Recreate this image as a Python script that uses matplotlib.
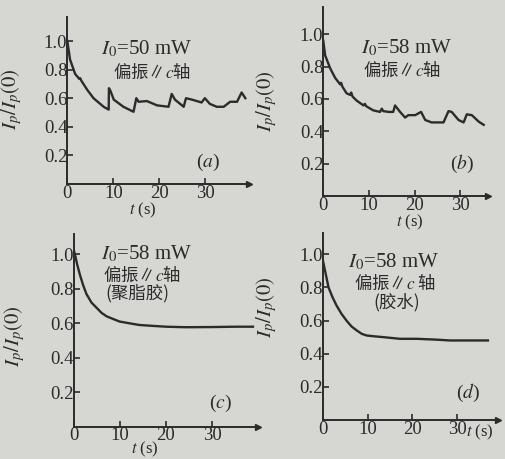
import matplotlib
matplotlib.use("Agg")
import matplotlib.pyplot as plt

W, H = 506, 459

plt.rcParams['mathtext.fontset'] = 'stix'
plt.rcParams['font.family'] = ['Liberation Serif', 'Noto Sans CJK SC', 'DejaVu Sans']

ink = '#2b2b2b'
paper = '#d6d6d3'

# (a) I0 = 50 mW, polarisation // c
a_t = [0, 0.6, 1.7, 2.6, 2.8, 3.1, 4.3, 5.7, 7.9, 9.0, 9.05, 9.4, 10.1, 12.2, 14.4,
       15.0, 15.5, 17.3, 19.5, 22.0, 22.7, 23.4, 25.3, 25.8, 27.1, 29.2, 29.9,
       31.0, 32.5, 34.0, 35.4, 36.9, 37.9, 38.7]
a_y = [1.0, 0.87, 0.77, 0.735, 0.74, 0.72, 0.66, 0.60, 0.54, 0.52, 0.67, 0.65, 0.59,
       0.54, 0.505, 0.60, 0.575, 0.58, 0.55, 0.54, 0.63, 0.59, 0.54, 0.60, 0.59,
       0.57, 0.60, 0.56, 0.54, 0.54, 0.575, 0.575, 0.64, 0.60]

# (b) I0 = 58 mW
b_t = [0, 0.4, 1.5, 2.6, 3.7, 3.9, 4.2, 5.1, 5.9, 6.1, 6.4, 7.3, 8.8, 9.1, 9.4,
       10.9, 12.4, 12.8, 13.1, 14.3, 15.3, 15.7, 16.8, 17.9, 18.6, 20.1, 21.4,
       22.3, 23.7, 26.3, 27.4, 28.1, 29.6, 30.7, 31.4, 32.5, 34.0, 35.1]
b_y = [0.96, 0.87, 0.79, 0.73, 0.69, 0.70, 0.675, 0.635, 0.625, 0.64, 0.615, 0.59,
       0.56, 0.57, 0.555, 0.53, 0.52, 0.54, 0.525, 0.52, 0.52, 0.56, 0.52, 0.485,
       0.50, 0.50, 0.52, 0.47, 0.455, 0.455, 0.525, 0.52, 0.47, 0.455, 0.505,
       0.50, 0.46, 0.44]

# (c) polyester glue
c_t = [0, 0.2, 0.7, 1.3, 2.0, 2.7, 3.8, 4.9, 6.0, 7.1, 8.5, 9.9, 12, 14.2, 17,
       20, 24.3, 30, 35, 38.9]
c_y = [1.02, 1.0, 0.94, 0.88, 0.82, 0.77, 0.72, 0.69, 0.66, 0.64, 0.625, 0.61,
       0.60, 0.59, 0.585, 0.58, 0.577, 0.578, 0.58, 0.58]

# (d) glue
d_t = [0, 0.3, 1.3, 2.2, 3.1, 4.2, 5.3, 6.4, 7.6, 8.7, 9.8, 11.5, 13.5, 17.2,
       20.9, 25.3, 28.3, 32, 36.8]
d_y = [0.97, 0.93, 0.80, 0.74, 0.69, 0.64, 0.60, 0.565, 0.54, 0.52, 0.51, 0.505,
       0.50, 0.49, 0.49, 0.485, 0.48, 0.48, 0.48]

y_ticks = [0.2, 0.4, 0.6, 0.8, 1.0]
x_ticks = [0, 10, 20, 30]

fig = plt.figure(figsize=(W / 100, H / 100), dpi=100, facecolor=paper)


def px(x, y):
    return x / W, 1 - y / H


def panel(left, bottom, sx, sy, xmax, ymax, t, y, lab_x, lab_y):
    # left/bottom = pixel position of the origin, sx/sy = pixels per unit
    right = left + xmax * sx
    top = bottom - ymax * sy
    ax = fig.add_axes([left / W, 1 - bottom / H, (right - left) / W, (bottom - top) / H])
    ax.set_facecolor('none')
    ax.plot(t, y, color=ink, lw=1.7, solid_joinstyle='round')
    ax.set_xlim(0, xmax)
    ax.set_ylim(0, ymax)
    for s in ['top', 'right']:
        ax.spines[s].set_visible(False)
    for s in ['left', 'bottom']:
        ax.spines[s].set_color(ink)
        ax.spines[s].set_linewidth(1.4)
    ax.plot(1, 0, '>', color=ink, ms=4, transform=ax.transAxes, clip_on=False)
    ax.set_xticks(x_ticks)
    ax.set_xticklabels([str(v) for v in x_ticks])
    ax.set_yticks(y_ticks)
    ax.set_yticklabels(['%.1f' % v for v in y_ticks])
    ax.tick_params(direction='in', length=4, width=1.2, color=ink, labelcolor=ink,
                   labelsize=13.5)
    ax.tick_params(axis='y', pad=0)
    ax.tick_params(axis='x', pad=0.5)
    ax.set_ylabel('$I_p/I_p(0)$', fontsize=15, color=ink)
    ax.yaxis.set_label_coords(lab_x, lab_y)
    return ax


panel(67.3, 184, 4.6, 143, 39.5, 1.17, a_t, a_y, -0.24, 0.51)
panel(323.3, 196, 4.57, 161.7, 36, 1.17, b_t, b_y, -0.27, 0.50)
panel(74, 426.7, 4.6, 172.4, 40, 1.12, c_t, c_y, -0.255, 0.47)
panel(322.7, 420, 4.49, 165.7, 39, 1.13, d_t, d_y, -0.25, 0.60)

cjk = ['Noto Sans CJK SC', 'DejaVu Sans']

# x labels
for x, y, ha in [(143, 210, 'center'), (410, 222, 'center'), (145, 449, 'center'),
                 (466, 432, 'left')]:
    fig.text(*px(x, y), '$t$ (s)', fontsize=12, color=ink, ha=ha, va='center')

# annotations
fig.text(*px(147, 49), '$I_0$=50 mW', fontsize=15, color=ink, ha='center', va='center')
fig.text(*px(152, 72), '偏振∥$c$轴', fontsize=12.5, color=ink, ha='center', va='center', family=cjk)
fig.text(*px(208, 162), '($a$)', fontsize=14, color=ink, ha='center', va='center')

fig.text(*px(407, 48), '$I_0$=58 mW', fontsize=15, color=ink, ha='center', va='center')
fig.text(*px(402, 70), '偏振∥$c$轴', fontsize=12.5, color=ink, ha='center', va='center', family=cjk)
fig.text(*px(462, 164), '($b$)', fontsize=14, color=ink, ha='center', va='center')

fig.text(*px(147, 254), '$I_0$=58 mW', fontsize=15, color=ink, ha='center', va='center')
fig.text(*px(142, 275), '偏振∥$c$轴', fontsize=12.5, color=ink, ha='center', va='center', family=cjk)
fig.text(*px(137, 293), '(聚脂胶)', fontsize=12.5, color=ink, ha='center', va='center', family=cjk)
fig.text(*px(220, 403), '($c$)', fontsize=14, color=ink, ha='center', va='center')

fig.text(*px(394, 262), '$I_0$=58 mW', fontsize=15, color=ink, ha='center', va='center')
fig.text(*px(395, 283), '偏振∥$c$ 轴', fontsize=12.5, color=ink, ha='center', va='center', family=cjk)
fig.text(*px(397, 302), '(胶水)', fontsize=12.5, color=ink, ha='center', va='center', family=cjk)
fig.text(*px(468, 393), '($d$)', fontsize=14, color=ink, ha='center', va='center')

fig.savefig('out.png', dpi=100, facecolor=paper)
